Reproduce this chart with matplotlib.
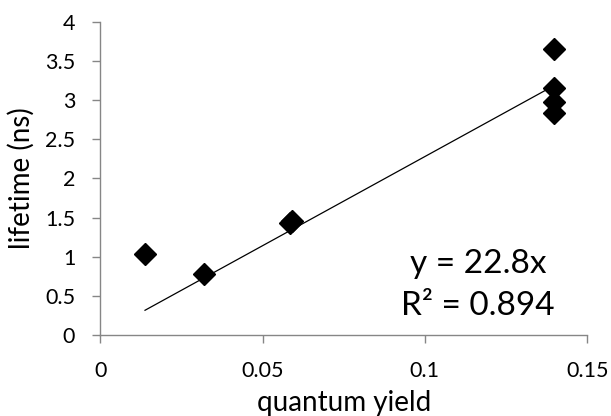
import numpy as np
import matplotlib.pyplot as plt

# === Data ===
quantum_yield = [0.0138, 0.0321, 0.0585, 0.0590, 0.1399, 0.1399, 0.1399, 0.1399]
lifetime_ns = [1.04, 0.78, 1.43, 1.46, 3.66, 3.16, 2.98, 2.84]
slope = 22.8
r_squared = 0.894

x_ticks = [0, 0.05, 0.1, 0.15]
x_tick_labels = ['0', '0.05', '0.1', '0.15']
y_ticks = [0, 0.5, 1, 1.5, 2, 2.5, 3, 3.5, 4]
y_tick_labels = ['0', '0.5', '1', '1.5', '2', '2.5', '3', '3.5', '4']

plt.rcParams['font.family'] = ['Lato', 'DejaVu Sans']

fig = plt.figure(figsize=(6.11, 4.16), dpi=100)
ax = fig.add_axes([0.164, 0.195, 0.797, 0.752])

# trendline through origin, spanning the data
x_line = np.array([min(quantum_yield), max(quantum_yield)])
ax.plot(x_line, slope * x_line, color='black', lw=0.9)

ax.plot(quantum_yield, lifetime_ns, linestyle='none', marker='D',
        ms=11, color='black')

ax.set_xlim(0, 0.15)
ax.set_ylim(0, 4)
ax.set_xticks(x_ticks)
ax.set_xticklabels(x_tick_labels)
ax.set_yticks(y_ticks)
ax.set_yticklabels(y_tick_labels)

for s in ['top', 'right']:
    ax.spines[s].set_visible(False)
for s in ['left', 'bottom']:
    ax.spines[s].set_color('#868686')
    ax.spines[s].set_linewidth(1.0)
ax.tick_params(axis='both', colors='#868686', labelcolor='black',
               labelsize=15.5, length=6, width=1.0, direction='out')
ax.tick_params(axis='x', pad=13)
ax.tick_params(axis='y', pad=12)

ax.set_xlabel('quantum yield', fontsize=20, labelpad=6.5)
ax.set_ylabel('lifetime (ns)', fontsize=20, labelpad=7)

ax.text(0.1163, 0.91, f'y = {slope}x', fontsize=24, ha='center', va='center')
ax.text(0.1163, 0.37, f'R² = {r_squared}', fontsize=24, ha='center', va='center')

fig.savefig('out.png', dpi=100)
